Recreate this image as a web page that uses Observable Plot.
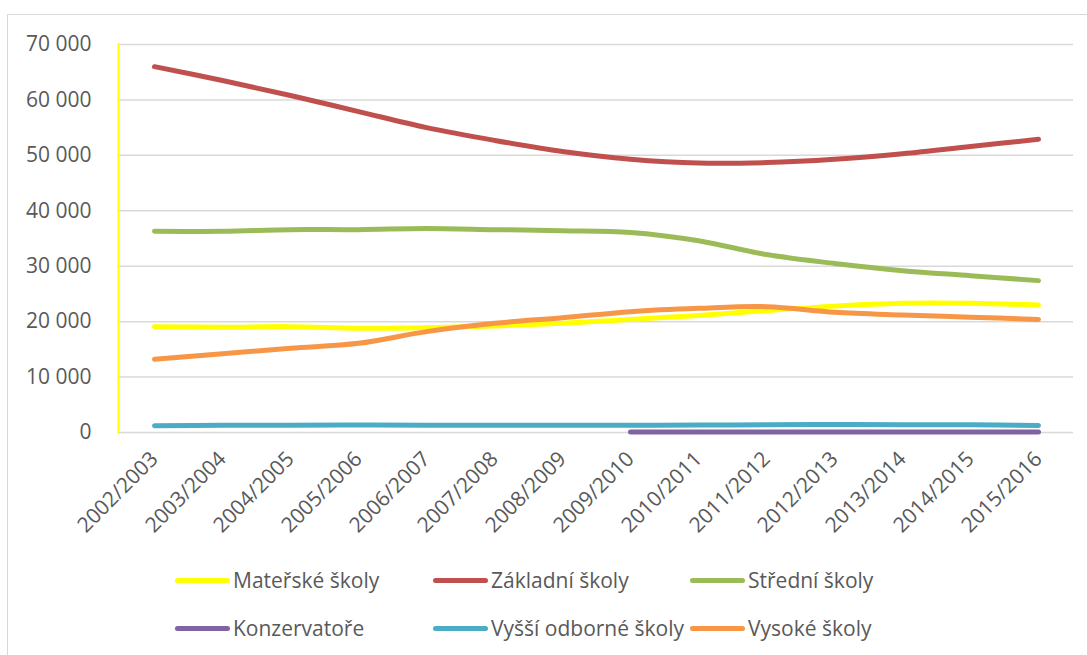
<!DOCTYPE html>
<html>
<head>
<meta charset="utf-8">
<script src="https://cdn.jsdelivr.net/npm/d3@7"></script>
<script src="https://cdn.jsdelivr.net/npm/@observablehq/plot@0.6"></script>
<style>
  html, body { margin: 0; padding: 0; background: #fff; }
  body { width: 1087px; height: 655px; position: relative; overflow: hidden; font-family: "Open Sans", sans-serif; }
  #frame { position: absolute; left: 7px; top: 14px; width: 1100px; height: 660px; border: 1.5px solid #d9d9d9; box-sizing: border-box; }
  #chart { position: absolute; left: 0; top: 0; }
  .leg { position: absolute; display: flex; align-items: center; font-size: 21px; color: #595959; white-space: nowrap; }
  .sw { display: inline-block; width: 55px; height: 5px; border-radius: 3px; margin-right: 3px; }
</style>
</head>
<body>
<div id="frame"></div>
<div id="chart"></div>
<div id="legend"></div>
<script>
const years = ["2002/2003","2003/2004","2004/2005","2005/2006","2006/2007","2007/2008","2008/2009","2009/2010","2010/2011","2011/2012","2012/2013","2013/2014","2014/2015","2015/2016"];
const seriesNames = ["Mateřské školy","Základní školy","Střední školy","Konzervatoře","Vyšší odborné školy","Vysoké školy"];
const colors = ["#FFFF00","#C0504D","#9BBB59","#8064A2","#4BACC6","#F79646"];
const materske = [19100,19000,19100,18800,18900,19200,19700,20400,21100,22000,22800,23300,23300,23000];
const zakladni = [66000,63500,60800,57900,55000,52700,50700,49300,48600,48700,49300,50300,51600,52900];
const stredni = [36300,36300,36600,36600,36800,36600,36400,36100,34600,32100,30500,29200,28300,27400];
const konzervatore = [null,null,null,null,null,null,null,100,100,100,100,100,100,100];
const vyssi = [1200,1300,1300,1350,1300,1300,1300,1300,1350,1400,1450,1400,1400,1250];
const vysoke = [13200,14200,15200,16100,18200,19700,20700,21800,22400,22700,21700,21200,20800,20400];
const yTicks = [0,10000,20000,30000,40000,50000,60000,70000];

const allSeries = [materske, zakladni, stredni, konzervatore, vyssi, vysoke];
const data = [];
allSeries.forEach((vals, si) => vals.forEach((v, i) => {
  if (v != null) data.push({year: years[i], value: v, series: seriesNames[si]});
}));

const fmt = d => d === 0 ? "0" : d3.format(",")(d).replace(/,/g, " ");

const plot = Plot.plot({
  width: 1087,
  height: 560,
  marginLeft: 118,
  marginRight: 14,
  marginTop: 44,
  marginBottom: 128,
  style: {fontFamily: "Open Sans", fontSize: "21px", color: "#595959", background: "transparent"},
  x: {type: "point", domain: years, label: null},
  y: {domain: [0, 70000], label: null},
  color: {domain: seriesNames, range: colors},
  marks: [
    Plot.ruleY(yTicks, {stroke: "#d9d9d9", strokeWidth: 1.5}),
    Plot.frame({anchor: "left", stroke: "#FFFF00", strokeWidth: 2}),
    Plot.axisY(yTicks, {tickSize: 0, tickPadding: 27, tickFormat: fmt, fontSize: 21, label: null}),
    Plot.axisX({tickSize: 0, tickRotate: -45, tickPadding: 23, fontSize: 21, label: null}),
    Plot.line(data, {x: "year", y: "value", z: "series", stroke: "series", strokeWidth: 5, curve: "catmull-rom", strokeLinecap: "round", strokeLinejoin: "round"})
  ]
});
document.getElementById("chart").appendChild(plot);

const legendPos = [[175,580],[433,580],[690,580],[175,628],[433,628],[690,628]];
const legend = document.getElementById("legend");
seriesNames.forEach((name, i) => {
  const d = document.createElement("div");
  d.className = "leg";
  d.style.left = legendPos[i][0] + "px";
  d.style.top = (legendPos[i][1] - 15) + "px";
  d.style.height = "30px";
  const sw = document.createElement("span");
  sw.className = "sw";
  sw.style.background = colors[i];
  d.appendChild(sw);
  d.appendChild(document.createTextNode(name));
  legend.appendChild(d);
});
</script>
</body>
</html>
